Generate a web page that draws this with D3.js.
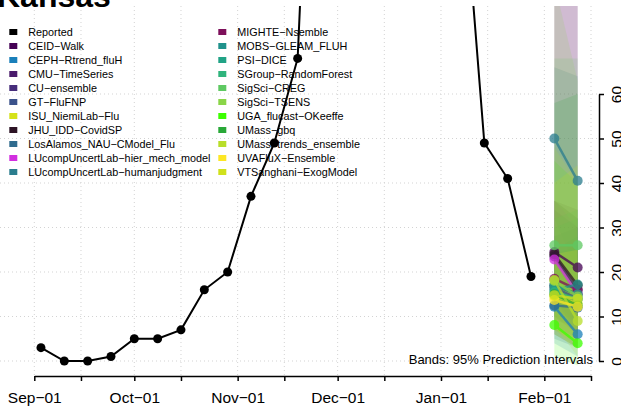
<!DOCTYPE html>
<html>
<head>
<meta charset="utf-8">
<script src="https://cdn.jsdelivr.net/npm/d3@7"></script>
<style>
body { margin: 0; background: #fff; }
text { font-family: "Liberation Sans", Arial, Helvetica, sans-serif; }
</style>
</head>
<body>
<svg width="621" height="408"></svg>
<script>
// reported weekly hospitalizations
var reportedDates = ["2023-09-03","2023-09-10","2023-09-17","2023-09-24","2023-10-01","2023-10-08",
    "2023-10-15","2023-10-22","2023-10-29","2023-11-05","2023-11-12","2023-11-19","2023-11-26",
    "2023-12-03","2023-12-10","2023-12-17","2023-12-24","2023-12-31","2024-01-07","2024-01-14",
    "2024-01-21","2024-01-28"];
var reportedValues = [3, 0, 0, 1, 5, 5, 7, 16, 20, 37, 49, 68, 186, 240, 290, 330, 350, 260, 115, 49, 41, 19];

var models = ["CEID-Walk","CEPH-Rtrend_fluH","CMU-TimeSeries","CU-ensemble","GT-FluFNP",
    "ISU_NiemiLab-Flu","JHU_IDD-CovidSP","LosAlamos_NAU-CModel_Flu","LUcompUncertLab-hier_mech_model",
    "LUcompUncertLab-humanjudgment","MIGHTE-Nsemble","MOBS-GLEAM_FLUH","PSI-DICE","SGroup-RandomForest",
    "SigSci-CREG","SigSci-TSENS","UGA_flucast-OKeeffe","UMass-gbq","UMass-trends_ensemble",
    "UVAFluX-Ensemble","VTSanghani-ExogModel"];
var modelColors = ["#440154","#1a7fba","#4a1a6c","#472d7b","#3b528b","#d5e21a","#2d1425","#2f6b8e",
    "#d22fe0","#2a7d8e","#7d0f5a","#20928c","#21a386","#2fb47c","#5ec962","#8ad548","#3cff00",
    "#29a838","#b8de29","#fde725","#d0e11c"];

var forecastDates = ["2024-02-04", "2024-02-11"];
var median1 = [24.5, 12.2, 23.5, 17, 16.5, 14.5, 24, 12.5, 22.8, 50, 18.5, 16, 17, 15.5, 26, 18, 8.1, 15, 18.2, 13.7, 14.8];
var median2 = [21, 6, 16, 15, 14, 13, 17, 12, 15, 40.5, 16, 17.2, 15, 14, 26, 14.5, 4, 12.5, 9, 12.2, 14];
var lower1 = [12, 4, 14, 6, 8, 7, 14, 5, 12, 32, 10, 9, 10, 7, 14, 7, 1, 6, 8, 6, 7];
var lower2 = [8, 1, 8, 3, 5, 4, 6, 3, 5, 20, 6, 8, 7, 5, 12, 3, -1, 3, 1, 3, 4];
var upper1 = [36, 24, 34, 120, 28, 24, 36, 24, 36, 66, 110, 25, 30, 32, 68, 85, 45, 58, 48, 24, 40];
var upper2 = [34, 16, 30, 120, 30, 26, 32, 26, 30, 64, 110, 28, 32, 34, 68, 63, 40, 60, 40, 25, 44];

var xTickDates = ["2023-09-01","2023-09-15","2023-10-01","2023-10-15","2023-11-01","2023-11-15",
    "2023-12-01","2023-12-15","2024-01-01","2024-01-15","2024-02-01","2024-02-15"];
var yTicks = [0, 10, 20, 30, 40, 50, 60];

var parse = d3.utcParse("%Y-%m-%d");
var fmt = d3.utcFormat("%b-%d");
var minus = function (s) { return s.replace(/-/g, "\u2212"); };

var svg = d3.select("svg"),
    plotLeft = 0, plotRight = 599, plotTop = 6, plotBottom = 376;

var x = d3.scaleUtc()
    .domain([parse("2023-09-01"), parse("2024-02-15")])
    .range([34.3, 591]);
var y = d3.scaleLinear()
    .domain([0, 60])
    .range([361, 94]);

svg.append("defs").append("clipPath").attr("id", "plotclip")
    .append("rect")
    .attr("x", plotLeft).attr("y", plotTop)
    .attr("width", plotRight - plotLeft).attr("height", plotBottom - plotTop);

// grid
var grid = svg.append("g").attr("stroke", "#d3d3d3").attr("stroke-dasharray", "1,3");
grid.selectAll(".vgrid")
    .data(xTickDates)
    .enter()
    .append("line")
    .attr("x1", function (d) { return x(parse(d)); })
    .attr("x2", function (d) { return x(parse(d)); })
    .attr("y1", plotTop).attr("y2", plotBottom);
grid.selectAll(".hgrid")
    .data(yTicks)
    .enter()
    .append("line")
    .attr("x1", plotLeft).attr("x2", plotRight)
    .attr("y1", function (d) { return y(d); })
    .attr("y2", function (d) { return y(d); });

var plot = svg.append("g").attr("clip-path", "url(#plotclip)");

// prediction bands
var fx1 = x(parse(forecastDates[0])), fx2 = x(parse(forecastDates[1]));
plot.selectAll(".band")
    .data(models)
    .enter()
    .append("path")
    .attr("class", "band")
    .attr("d", function (d, i) {
        return "M" + fx1 + "," + y(lower1[i]) + "L" + fx2 + "," + y(lower2[i]) +
            "L" + fx2 + "," + y(upper2[i]) + "L" + fx1 + "," + y(upper1[i]) + "Z";
    })
    .attr("fill", function (d, i) { return modelColors[i]; })
    .attr("fill-opacity", 0.16)
    .attr("stroke", "none");

// reported
var reported = reportedDates.map(function (d, i) { return {date: parse(d), value: reportedValues[i]}; });
plot.append("path")
    .datum(reported)
    .attr("fill", "none")
    .attr("stroke", "#000")
    .attr("stroke-width", 2)
    .attr("d", d3.line().x(function (d) { return x(d.date); }).y(function (d) { return y(d.value); }));
plot.selectAll(".rep")
    .data(reported)
    .enter()
    .append("circle")
    .attr("cx", function (d) { return x(d.date); })
    .attr("cy", function (d) { return y(d.value); })
    .attr("r", 4.5)
    .attr("fill", "#000");

// forecast medians
var fc = plot.selectAll(".fc")
    .data(models)
    .enter()
    .append("g")
    .attr("opacity", 0.75);
fc.append("line")
    .attr("x1", fx1).attr("x2", fx2)
    .attr("y1", function (d, i) { return y(median1[i]); })
    .attr("y2", function (d, i) { return y(median2[i]); })
    .attr("stroke", function (d, i) { return modelColors[i]; })
    .attr("stroke-width", 2.5);
fc.append("circle")
    .attr("cx", fx1)
    .attr("cy", function (d, i) { return y(median1[i]); })
    .attr("r", 5)
    .attr("fill", function (d, i) { return modelColors[i]; });
fc.append("circle")
    .attr("cx", fx2)
    .attr("cy", function (d, i) { return y(median2[i]); })
    .attr("r", 5)
    .attr("fill", function (d, i) { return modelColors[i]; });

// axes
var xAxis = svg.append("g")
    .attr("transform", "translate(0," + plotBottom + ")")
    .call(d3.axisBottom(x)
        .tickValues(xTickDates.map(parse))
        .tickFormat(function (d) { return d.getUTCDate() === 1 ? minus(fmt(d)) : ""; })
        .tickSize(5).tickSizeOuter(0).tickPadding(11));
xAxis.selectAll("text").attr("font-size", 15.5).attr("fill", "#000").style("font-family", null);
xAxis.selectAll("path, line").attr("stroke", "#000").attr("stroke-width", 1.5);

var yAxis = svg.append("g")
    .attr("transform", "translate(" + plotRight + ",0)")
    .call(d3.axisRight(y).tickValues(yTicks).tickSize(5).tickSizeOuter(0));
yAxis.selectAll("path, line").attr("stroke", "#000").attr("stroke-width", 1.5);
yAxis.selectAll("text")
    .attr("x", null).attr("dy", null)
    .attr("font-size", 15.5).attr("fill", "#000")
    .attr("text-anchor", "middle")
    .attr("transform", "translate(23,0) rotate(-90)");

svg.append("text")
    .attr("x", 593).attr("y", 364)
    .attr("text-anchor", "end")
    .attr("font-size", 13)
    .text("Bands: 95% Prediction Intervals");

// title
svg.append("text")
    .attr("x", -3).attr("y", 7)
    .attr("font-size", 32)
    .attr("font-weight", "bold")
    .text("Kansas");

// legend
var legendNames = ["Reported"].concat(models);
var legendColors = ["#000"].concat(modelColors);
var leg = svg.selectAll(".leg")
    .data(legendNames)
    .enter()
    .append("g")
    .attr("transform", function (d, i) {
        var col = i < 11 ? 0 : 1, row = i % 11;
        return "translate(" + (col ? 218.3 : 9.3) + "," + (32 + 14 * row) + ")";
    });
leg.append("rect")
    .attr("x", 0).attr("y", -3)
    .attr("width", 8).attr("height", 6)
    .attr("fill", function (d, i) { return legendColors[i]; });
leg.append("text")
    .attr("x", 19).attr("y", 4)
    .attr("font-size", 10.8)
    .text(function (d) { return minus(d); });
</script>
</body>
</html>
